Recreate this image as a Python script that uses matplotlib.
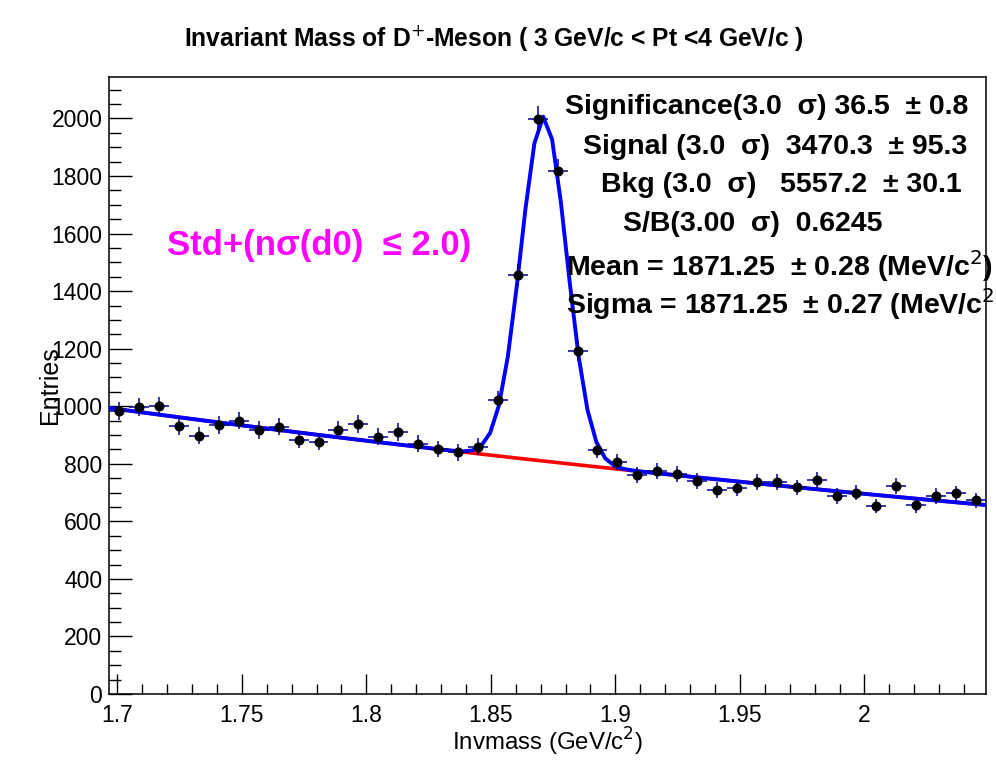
import numpy as np
import matplotlib
matplotlib.use("Agg")
import matplotlib.pyplot as plt
from matplotlib.ticker import MultipleLocator

plt.rcParams['font.family'] = ['Liberation Sans', 'DejaVu Sans']

# ---- data ----
bin_width = 0.008
x_low, x_high = 1.6968, 2.0488
bin_centers = [1.7008 + bin_width * i for i in range(44)]
counts = [984, 998, 1002, 931, 897, 935, 950, 917, 929, 883,
          876, 917, 938, 894, 910, 869, 851, 840, 860, 1022,
          1457, 1999, 1818, 1193, 848, 806, 761, 775, 763, 741,
          709, 715, 737, 737, 718, 743, 688, 700, 653, 723,
          656, 688, 697, 674]

# fit parameters (expo background + gaussian)
bkg_norm = 992.0
bkg_slope = -1.177
bkg_x0 = 1.6984
gaus_amp = 1197.0
gaus_mean = 1.87125
gaus_sigma = 0.0092

title = "Invariant Mass of D$^{+}$-Meson ( 3 GeV/c < Pt <4 GeV/c )"
stat_lines = [
    ("Significance(3.0  \u03c3) 36.5  \u00b1 0.8", 565, 107),
    ("Signal (3.0  \u03c3)  3470.3  \u00b1 95.3", 583, 147),
    ("Bkg (3.0  \u03c3)   5557.2  \u00b1 30.1", 601, 185),
    ("S/B(3.00  \u03c3)  0.6245", 623, 224),
    ("Mean = 1871.25  \u00b1 0.28 (MeV/c$^2$)", 566, 266),
    ("Sigma = 1871.25  \u00b1 0.27 (MeV/c$^2$)", 566, 304),
]
cut_label = "Std+(n\u03c3(d0)  \u2264 2.0)"

W, H = 996, 772
fig = plt.figure(figsize=(W / 100, H / 100), dpi=100)
ax_l, ax_r, ax_t, ax_b = 109.3, 986, 77.3, 694
ax = fig.add_axes([ax_l / W, (H - ax_b) / H, (ax_r - ax_l) / W, (ax_b - ax_t) / H])

x = np.array(bin_centers)
y = np.array(counts, dtype=float)

def bkg(xx):
    return bkg_norm * np.exp(bkg_slope * (xx - bkg_x0))

def total(xx):
    return bkg(xx) + gaus_amp * np.exp(-0.5 * ((xx - gaus_mean) / gaus_sigma) ** 2)

xf = np.linspace(x_low, x_high, 100)
ax.plot(xf, bkg(xf), color='#ff0000', lw=2.6, zorder=2)
ax.plot(xf, total(xf), color='#0000ff', lw=2.8, zorder=3)

ax.errorbar(x, y, yerr=np.sqrt(y), xerr=bin_width / 2, fmt='none',
            ecolor='#000099', elinewidth=1.1, capsize=0, zorder=4)
ax.plot(x, y, 'o', color='black', markersize=6.2, zorder=5)

ax.set_xlim(x_low, x_high)
ax.set_ylim(0, 2143)

ax.xaxis.set_minor_locator(MultipleLocator(0.01))
ax.yaxis.set_minor_locator(MultipleLocator(50))
ax.set_xticks([1.7, 1.75, 1.8, 1.85, 1.9, 1.95, 2.0])
ax.set_xticklabels(["1.7", "1.75", "1.8", "1.85", "1.9", "1.95", "2"])
ax.set_yticks(list(range(0, 2001, 200)))
ax.set_yticklabels([str(v) for v in range(0, 2001, 200)])

ax.tick_params(axis='x', which='major', direction='in', length=14.4, width=1,
               labelsize=16.5, pad=7, top=False)
ax.tick_params(axis='x', which='minor', direction='in', length=7.2, width=1, top=False)
ax.tick_params(axis='y', which='major', direction='in', length=16.6, width=1,
               labelsize=16.5, pad=5, right=False)
ax.tick_params(axis='y', which='minor', direction='in', length=8.6, width=1, right=False)
for s in ax.spines.values():
    s.set_linewidth(1.1)

fig.text((ax_l + ax_r) / 2 / W, 1 - 742 / H, "Invmass (GeV/c$^2$)", ha='center', va='center',
         fontsize=17.3)
fig.text(50 / W, 1 - 385 / H, "Entries", rotation=90, ha='center', va='center', fontsize=18)

fig.text(493.5 / W, 1 - 38 / H, title, ha='center', va='center', fontsize=17.7, fontweight='bold')

for txt, px, py in stat_lines:
    fig.text(px / W, 1 - py / H, txt, ha='left', va='center', fontsize=20.5, fontweight='bold')

fig.text(166.7 / W, 1 - 245 / H, cut_label, ha='left', va='center', fontsize=25,
         fontweight='bold', color='#ff00ff')

fig.savefig("out.png", dpi=100)
